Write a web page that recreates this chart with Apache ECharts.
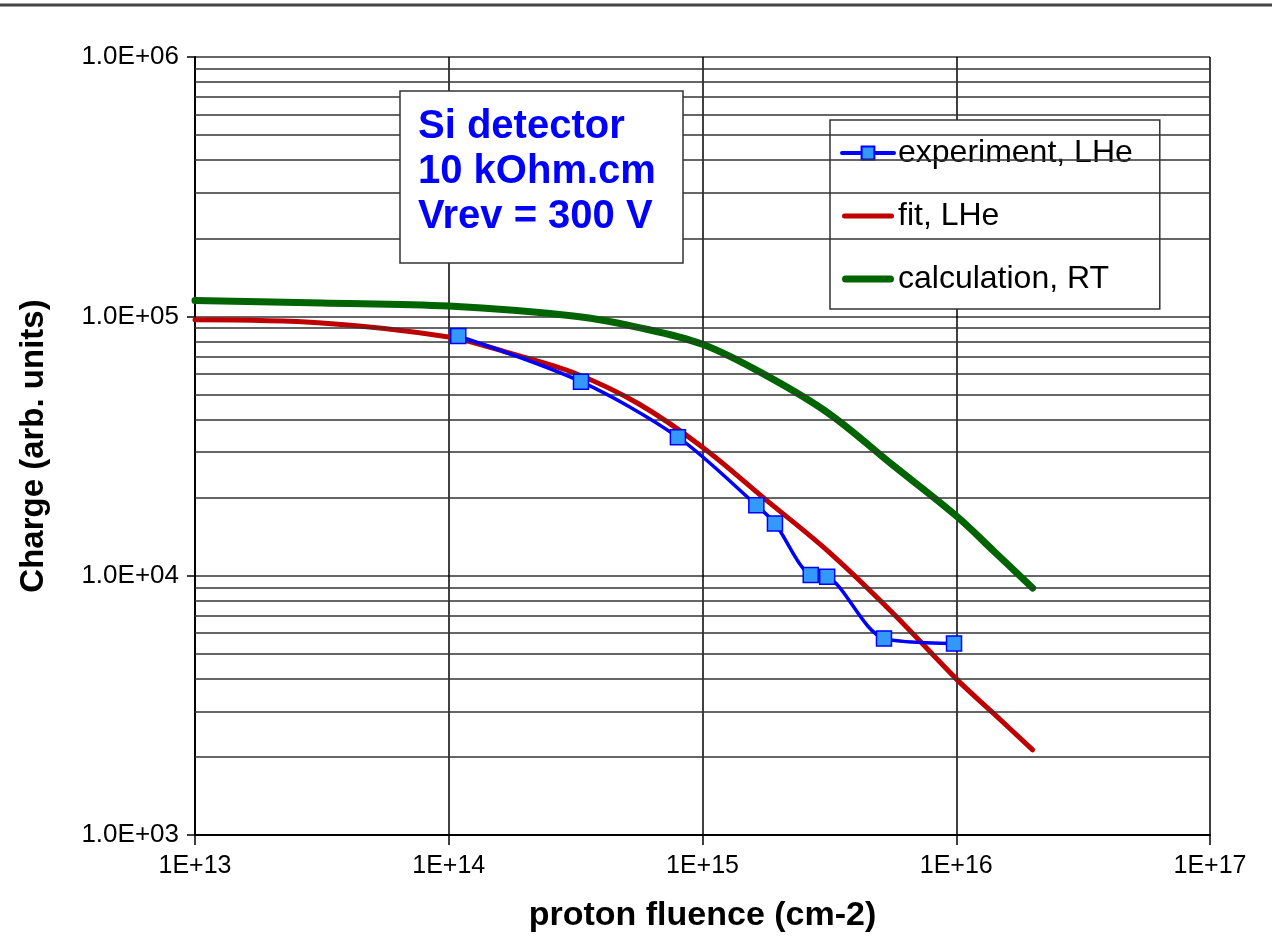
<!DOCTYPE html>
<html>
<head>
<meta charset="utf-8">
<title>Charge vs proton fluence</title>
<script src="https://cdn.jsdelivr.net/npm/echarts@6.0.0/dist/echarts.min.js"></script>
<style>
  html, body { margin: 0; padding: 0; background: #fff; }
  #chart { width: 1272px; height: 944px; }
</style>
</head>
<body>
<div id="chart"></div>
<script>
// experiment, LHe
const expX = [1.09e14, 3.32e14, 8.0e14, 1.63e15, 1.93e15, 2.67e15, 3.10e15, 5.19e15, 9.8e15]
const expY = [8.4e4, 5.6e4, 3.42e4, 1.87e4, 1.59e4, 1.006e4, 9.91e3, 5.73e3, 5.48e3]

// fit, LHe
const fitX = [1e13, 3.16e13, 1e14, 1.78e14, 3.16e14, 5.62e14, 1e15, 1.78e15, 3.16e15, 5.62e15, 1e16, 1.41e16, 2e16]
const fitY = [9.7e4, 9.43e4, 8.32e4, 7.16e4, 6.02e4, 4.59e4, 3.13e4, 1.96e4, 1.23e4, 7.18e3, 4.0e3, 2.93e3, 2.13e3]

// calculation, RT
const calcX = [1e13, 3.16e13, 1e14, 3.16e14, 5.62e14, 1e15, 1.78e15, 3.16e15, 5.62e15, 1e16, 1.41e16, 2e16]
const calcY = [1.15e5, 1.125e5, 1.095e5, 1.0e5, 9.05e4, 7.8e4, 5.92e4, 4.21e4, 2.67e4, 1.70e4, 1.24e4, 8.96e3]

// minor horizontal grid lines (2..9 of each decade)
const minorY = [2e3, 3e3, 4e3, 5e3, 6e3, 7e3, 8e3, 9e3,
  2e4, 3e4, 4e4, 5e4, 6e4, 7e4, 8e4, 9e4,
  2e5, 3e5, 4e5, 5e5, 6e5, 7e5, 8e5, 9e5]

const noteText = 'Si detector\n10 kOhm.cm\nVrev = 300 V'

const font = 'Arial, "Liberation Sans", sans-serif'
const pairs = (xs, ys) => xs.map((x, i) => [x, ys[i]])
const exp10 = v => Math.round(Math.log10(v))

// plain line icons for the legend (no marker)
const thinLine = 'path://M2.5,0 H49.5 A2.5,2.5 0 0 1 49.5,5 H2.5 A2.5,2.5 0 0 1 2.5,0 Z'
const thickLine = 'path://M3.5,0 H48.5 A3.5,3.5 0 0 1 48.5,7 H3.5 A3.5,3.5 0 0 1 3.5,0 Z'

const chart = echarts.init(document.getElementById('chart'))
const option = {
  animation: false,
  backgroundColor: '#fff',
  textStyle: { fontFamily: font },
  grid: { left: 195, right: 62, top: 57, bottom: 109, containLabel: false },
  xAxis: {
    type: 'log',
    logBase: 10,
    min: 1e13,
    max: 1e17,
    name: 'proton fluence (cm-2)',
    nameLocation: 'middle',
    nameGap: 64,
    nameTextStyle: { fontFamily: font, fontWeight: 'bold', fontSize: 34, color: '#000' },
    axisLine: { show: true, onZero: false, lineStyle: { color: '#000', width: 2 } },
    axisTick: { show: true, length: 10, lineStyle: { color: '#000', width: 1.5 } },
    axisLabel: {
      fontFamily: font, fontSize: 25, color: '#000', margin: 19,
      formatter: v => '1E+' + exp10(v)
    },
    splitLine: { show: true, lineStyle: { color: '#000', width: 1.5 } },
    minorTick: { show: false },
    minorSplitLine: { show: false }
  },
  yAxis: {
    type: 'log',
    logBase: 10,
    min: 1e3,
    max: 1e6,
    name: 'Charge (arb. units)',
    nameLocation: 'middle',
    nameGap: 145,
    nameRotate: 90,
    nameTextStyle: { fontFamily: font, fontWeight: 'bold', fontSize: 33, color: '#000' },
    axisLine: { show: true, lineStyle: { color: '#000', width: 2 } },
    axisTick: { show: true, length: 8, lineStyle: { color: '#000', width: 1.5 } },
    axisLabel: {
      fontFamily: font, fontSize: 26, color: '#000', margin: 16,
      formatter: v => '1.0E+' + String(exp10(v)).padStart(2, '0')
    },
    splitLine: { show: true, lineStyle: { color: '#333', width: 1.5 } },
    minorTick: { show: false },
    minorSplitLine: { show: false }
  },
  legend: {
    orient: 'vertical',
    left: 830,
    top: 120,
    data: [
      { name: 'experiment, LHe', lineStyle: { width: 4, cap: 'round' } },
      { name: 'fit, LHe', icon: thinLine },
      { name: 'calculation, RT', icon: thickLine }
    ],
    symbolKeepAspect: true,
    backgroundColor: '#fff',
    borderColor: '#333',
    borderWidth: 1.5,
    borderRadius: 0,
    padding: [17, 27, 14, 10],
    itemWidth: 52,
    itemHeight: 16,
    itemGap: 31,
    textStyle: { fontFamily: font, fontSize: 32, color: '#000', padding: [0, 0, 0, -1] }
  },
  graphic: [
    // rule across the top of the picture
    { type: 'line', silent: true, shape: { x1: 0, y1: 5, x2: 1272, y2: 5 },
      style: { stroke: '#444', lineWidth: 3 } },
    // note box
    { type: 'rect', z: 50, shape: { x: 400, y: 91, width: 283, height: 172 },
      style: { fill: '#fff', stroke: '#333', lineWidth: 1.5 } },
    { type: 'text', z: 51, x: 418, y: 104,
      style: { text: noteText, font: 'bold 40px ' + font, fill: '#0000FF', lineHeight: 45, verticalAlign: 'top' } }
  ],
  series: [
    {
      // only carries the minor grid lines, drawn behind the curves
      name: 'minor-grid',
      type: 'line',
      data: [],
      z: 1,
      silent: true,
      markLine: {
        silent: true,
        symbol: ['none', 'none'],
        label: { show: false },
        lineStyle: { color: '#333', width: 1.5, type: 'solid' },
        emphasis: { disabled: true },
        data: minorY.map(v => ({ yAxis: v }))
      }
    },
    {
      name: 'calculation, RT',
      type: 'line',
      z: 3,
      data: pairs(calcX, calcY),
      smooth: 0.35,
      showSymbol: false,
      symbol: 'none',
      lineStyle: { color: '#006400', width: 7, cap: 'round' },
      itemStyle: { color: '#006400' }
    },
    {
      name: 'fit, LHe',
      type: 'line',
      z: 4,
      data: pairs(fitX, fitY),
      smooth: 0.35,
      showSymbol: false,
      symbol: 'none',
      lineStyle: { color: '#C00000', width: 5, cap: 'round' },
      itemStyle: { color: '#C00000' }
    },
    {
      name: 'experiment, LHe',
      type: 'line',
      z: 5,
      data: pairs(expX, expY),
      smooth: 0.3,
      symbol: 'rect',
      symbolSize: 15,
      lineStyle: { color: '#0000FF', width: 3.5 },
      itemStyle: { color: '#3399FF', borderColor: '#0000FF', borderWidth: 1.5 }
    }
  ]
}
chart.setOption(option)
</script>
</body>
</html>
